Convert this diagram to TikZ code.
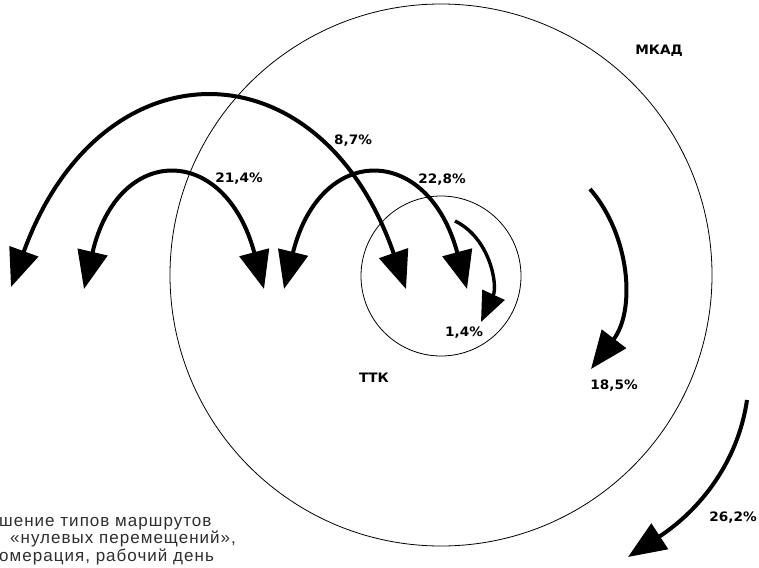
\documentclass[tikz,border=0pt]{standalone}
\usepackage{fontspec}
\setmainfont{DejaVu Sans}
\newfontfamily\lblfont{DejaVu Sans}[FakeStretch=1.05]
\newfontfamily\capfont{Liberation Sans}[LetterSpace=6]
\usetikzlibrary{arrows.meta}
\tikzset{
  ring/.style={draw=black, line width=0.8pt},
  bighead/.tip={Triangle[length=38pt,width=30pt]},
  smallhead/.tip={Triangle[length=30pt,width=24pt]},
  flow/.style={draw=black, line width=4pt, -bighead},
  flowsmall/.style={draw=black, line width=3.4pt, -smallhead},
  flow2/.style={draw=black, line width=4pt, bighead-bighead},
  pct/.style={font=\lblfont\bfseries\fontsize{13}{14}\selectfont, inner sep=0pt},
  captext/.style={font=\capfont\fontsize{17}{17}\selectfont, text=black!82, inner sep=0pt, anchor=base west}
}
\begin{document}
\begin{tikzpicture}[x=1pt,y=-1pt]
\useasboundingbox (0,0) rectangle (759,567);
\clip (0,0) rectangle (759,567);
\fill[white] (0,0) rectangle (759,567);
% rings
\node[ring, circle, minimum size=542pt, inner sep=0pt] (mkad) at (441,275) {};
\node[ring, circle, minimum size=160pt, inner sep=0pt] (ttk) at (441,276) {};
% labels
\node[pct] (lmkad) at (659,51) {МКАД};
\node[pct] (lttk) at (374,378) {ТТК};
\node[pct] (l87) at (353,141) {8,7\%};
\node[pct] (l228) at (442,180) {22,8\%};
\node[pct] (l214) at (239,179) {21,4\%};
\node[pct] (l14) at (464,333) {1,4\%};
\node[pct] (l185) at (614,386) {18,5\%};
\node[pct] (l262) at (733,518) {26,2\%};
% flow anchors
\coordinate (a1) at (11,287);  \coordinate (b1) at (406,289);
\coordinate (a2) at (84,289);  \coordinate (b2) at (264,289);
\coordinate (a3) at (284,289); \coordinate (b3) at (467,289);
\coordinate (s4) at (455,221); \coordinate (e4) at (481,322);
\coordinate (s5) at (590,189); \coordinate (e5) at (591,369);
\coordinate (s6) at (747,400); \coordinate (e6) at (628,557);
% arrows
\draw[flow2] (a1) .. controls (100,41) and (320,41) .. (b1);
\draw[flow2] (a2) .. controls (118,143) and (225,143) .. (b2);
\draw[flow2] (a3) .. controls (320,143) and (428,143) .. (b3);
\draw[flowsmall] (s4) .. controls (490,238) and (498,285) .. (e4);
\draw[flow] (s5) .. controls (630,235) and (636,310) .. (e5);
\draw[flow] (s6) .. controls (738,462) and (700,510) .. (e6);
% caption (cropped in the reference)
\node[captext] (c1) at (-1,526) {шение типов маршрутов};
\node[captext] (c2) at (10,543) {«нулевых перемещений»,};
\node[captext] (c3) at (-1,561) {омерация, рабочий день};
\end{tikzpicture}
\end{document}
